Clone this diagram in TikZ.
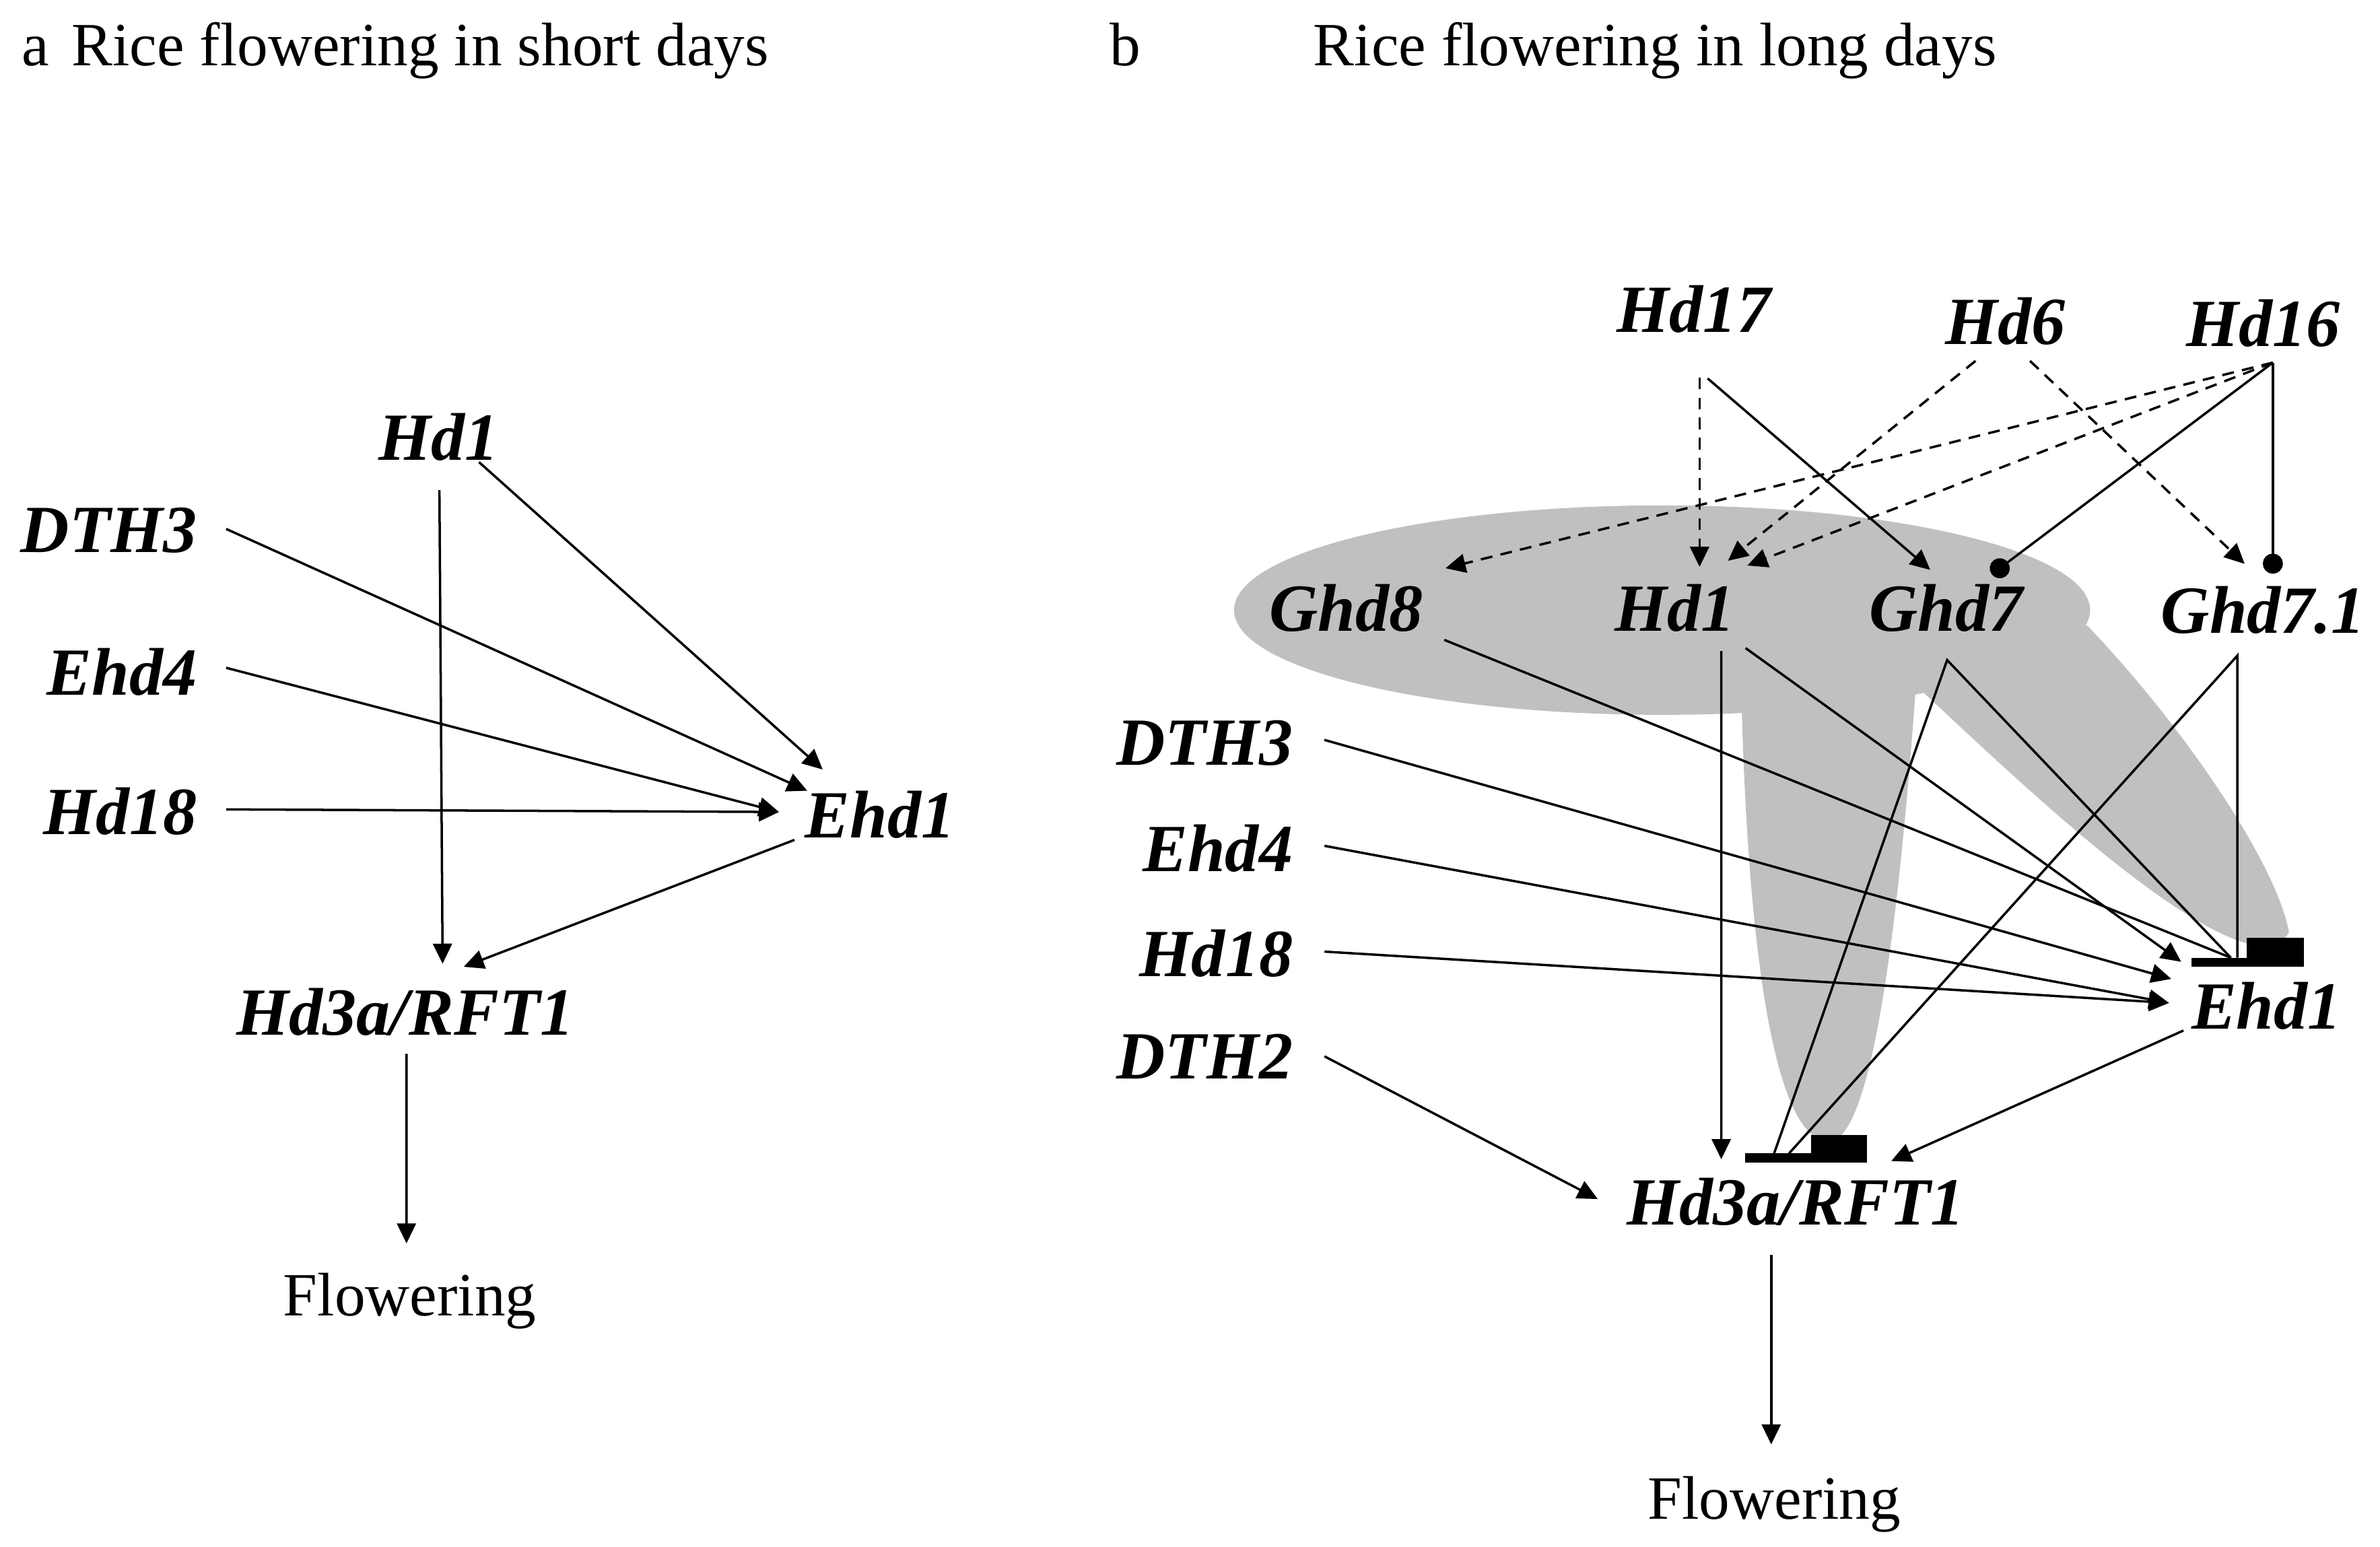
\documentclass[tikz,border=0pt]{standalone}
\usepackage{fontspec}
\setmainfont{Liberation Serif}
\usetikzlibrary{arrows.meta}
\definecolor{blobgray}{RGB}{192,192,192}

\begin{document}
\begin{tikzpicture}[x=0.022545cm, y=-0.022545cm,
  gene/.style={font=\fontsize{28.5}{30}\selectfont\bfseries\itshape, inner sep=0pt, text height=20pt, text depth=0pt},
  plain/.style={font=\fontsize{26}{28}\selectfont, inner sep=0pt},
  act/.style={line width=1pt, -{Triangle[length=8.5pt,width=8pt]}},
  actdash/.style={act, dash pattern=on 5pt off 3.5pt},
  blunt/.style={line width=1pt},
  dot/.style={line width=1pt, -{Circle[length=8.5pt]}}]
  \useasboundingbox (0,0) rectangle (1568,1019);

  \fill[blobgray] (1095,402) ellipse [x radius=282, y radius=69];
  \fill[blobgray] (1147,440) -- (1147.6,471) .. controls (1152,620) and (1168,752) .. (1205,752)
    .. controls (1232,752) and (1250,620) .. (1262,455) -- (1262,440) -- cycle;
  \fill[blobgray] (1268,440) -- (1268,457) .. controls (1330,515) and (1420,600) .. (1475,620)
    .. controls (1490,625) and (1505,622) .. (1508,614)
    .. controls (1500,570) and (1440,480) .. (1375,412) -- cycle;

  \node[plain, anchor=base west] (aTag) at (14,43.4) {a};
  \node[plain, anchor=base west] (aTitle) at (47,43.4) {Rice flowering in short days};
  \node[plain, anchor=base west] (bTag) at (731,43.4) {b};
  \node[plain, anchor=base west] (bTitle) at (865,43.4) {Rice flowering in long days};

  \node[gene, anchor=base] (aHd1) at (289,303) {Hd1};
  \node[gene, anchor=base east] (aDTH3) at (130,364) {DTH3};
  \node[gene, anchor=base east] (aEhd4) at (130,458) {Ehd4};
  \node[gene, anchor=base east] (aHd18) at (130,550) {Hd18};
  \node[gene, anchor=base west] (aEhd1) at (530,552) {Ehd1};
  \node[gene, anchor=base] (aHd3a) at (267,682) {Hd3a/RFT1};
  \node[plain, anchor=base] (aFlower) at (270,867) {Flowering};

  \node[gene, anchor=base] (bHd17) at (1116,219) {Hd17};
  \node[gene, anchor=base] (bHd6) at (1321,227) {Hd6};
  \node[gene, anchor=base] (bHd16) at (1491,228) {Hd16};
  \node[gene, anchor=base] (bGhd8) at (887,416) {Ghd8};
  \node[gene, anchor=base] (bHd1) at (1103.5,416) {Hd1};
  \node[gene, anchor=base] (bGhd7) at (1282,416) {Ghd7};
  \node[gene, anchor=base] (bGhd71) at (1491,417) {Ghd7.1};
  \node[gene, anchor=base east] (bDTH3) at (852,504) {DTH3};
  \node[gene, anchor=base east] (bEhd4) at (852,574) {Ehd4};
  \node[gene, anchor=base east] (bHd18) at (852,643.5) {Hd18};
  \node[gene, anchor=base east] (bDTH2) at (852,711) {DTH2};
  \node[gene, anchor=base west] (bEhd1) at (1443.5,678) {Ehd1};
  \node[gene, anchor=base] (bHd3a) at (1183,807) {Hd3a/RFT1};
  \node[plain, anchor=base] (bFlower) at (1169,1001) {Flowering};

  \draw[act] ([shift={(0.5,20)}]aHd1.base) -- ([shift={(24.6,-47)}]aHd3a.base);
  \draw[act] ([shift={(26.6,1.5)}]aHd1.base) -- ([shift={(12,-45)}]aEhd1.base west);
  \draw[act] ([shift={(19,-15.5)}]aDTH3.base east) -- ([shift={(1.8,-31)}]aEhd1.base west);
  \draw[act] ([shift={(19,-18)}]aEhd4.base east) -- ([shift={(-16.8,-17)}]aEhd1.base west);
  \draw[act] ([shift={(19,-16.7)}]aHd18.base east) -- ([shift={(-16.8,-17)}]aEhd1.base west);
  \draw[act] ([shift={(-6.6,1.4)}]aEhd1.base west) -- ([shift={(38.5,-45)}]aHd3a.base);
  \draw[act] ([shift={(0.8,12.3)}]aHd3a.base) -- ([shift={(-2.2,-47.7)}]aFlower.base);

  \fill ([shift={(0.5,-47)}]bEhd1.base west) rectangle ([shift={(74.5,-41)}]bEhd1.base west);
  \fill ([shift={(36.5,-60)}]bEhd1.base west) rectangle ([shift={(74.5,-41)}]bEhd1.base west);
  \fill ([shift={(-33.4,-47.2)}]bHd3a.base) rectangle ([shift={(47,-41)}]bHd3a.base);
  \fill ([shift={(10,-59)}]bHd3a.base) rectangle ([shift={(47,-41)}]bHd3a.base);

  \draw[actdash] ([shift={(3.7,29.7)}]bHd17.base) -- ([shift={(16.2,-42.5)}]bHd1.base);
  \draw[act] ([shift={(9,30.3)}]bHd17.base) -- ([shift={(-10.3,-40.5)}]bGhd7.base);
  \draw[actdash] ([shift={(-19.5,10.8)}]bHd6.base) -- ([shift={(34.9,-46.5)}]bHd1.base);
  \draw[actdash] ([shift={(16.4,10.8)}]bHd6.base) -- ([shift={(-12.2,-45.5)}]bGhd71.base);
  \draw[actdash] ([shift={(6.4,10.9)}]bHd16.base) -- ([shift={(65.3,-41.6)}]bGhd8.base);
  \draw[actdash] ([shift={(6.4,10.9)}]bHd16.base) -- ([shift={(47.7,-43.4)}]bHd1.base);
  \draw[dot] ([shift={(6.4,10.9)}]bHd16.base) -- ([shift={(30.2,-37.6)}]bGhd7.base);
  \draw[dot] ([shift={(6.4,10.9)}]bHd16.base) -- ([shift={(6.4,-39)}]bGhd71.base);

  \draw[blunt] ([shift={(64.5,5.6)}]bGhd8.base) -- ([shift={(26.2,-47)}]bEhd1.base west);
  \draw[act] ([shift={(30.5,13)}]bHd1.base) -- ([shift={(-49,-43.2)}]bHd3a.base);
  \draw[act] ([shift={(46.5,11)}]bHd1.base) -- ([shift={(-6.5,-44.3)}]bEhd1.base west);
  \draw[blunt] ([shift={(-14.2,-47)}]bHd3a.base) -- ([shift={(0.8,18.9)}]bGhd7.base) -- ([shift={(26.2,-47)}]bEhd1.base west);
  \draw[blunt] ([shift={(-4.4,-47)}]bHd3a.base) -- ([shift={(-17,15)}]bGhd71.base) -- ([shift={(30.5,-47)}]bEhd1.base west);
  \draw[act] ([shift={(20.5,-16.5)}]bDTH3.base east) -- ([shift={(-13,-33)}]bEhd1.base west);
  \draw[act] ([shift={(20.6,-16.7)}]bEhd4.base east) -- ([shift={(-14.5,-17.2)}]bEhd1.base west);
  \draw[act] ([shift={(20.6,-16.5)}]bHd18.base east) -- ([shift={(-14.5,-17.2)}]bEhd1.base west);
  \draw[act] ([shift={(-5,1)}]bEhd1.base west) -- ([shift={(63,-42)}]bHd3a.base);
  \draw[act] ([shift={(20.6,-15)}]bDTH2.base east) -- ([shift={(-130.4,-17)}]bHd3a.base);
  \draw[act] ([shift={(-16.1,20)}]bHd3a.base) -- ([shift={(-2.1,-49.3)}]bFlower.base);
\end{tikzpicture}
\end{document}
